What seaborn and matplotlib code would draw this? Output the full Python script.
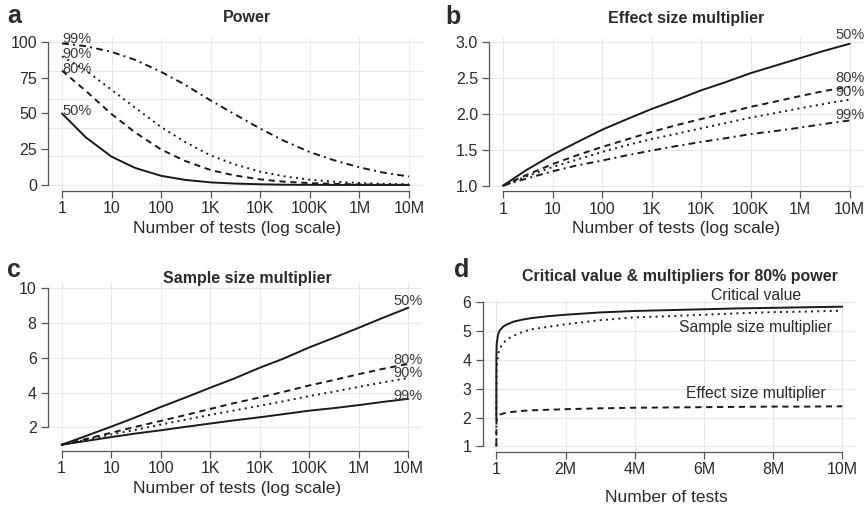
import pandas as pd
import matplotlib
matplotlib.use("Agg")
import matplotlib.pyplot as plt
import seaborn as sns

# values
n_tests = [1, 3, 10, 30, 100, 300, 1e3, 3e3, 1e4, 3e4, 1e5, 3e5, 1e6, 3e6, 1e7]
log_ticks = [1, 10, 100, 1e3, 1e4, 1e5, 1e6, 1e7]
log_labels = ["1", "10", "100", "1K", "10K", "100K", "1M", "10M"]
levels = ["50%", "80%", "90%", "99%"]

power_50 = [50, 33.4, 19.8, 11.9, 6.4, 3.6, 1.8, 1.0, 0.5, 0.2, 0.1, 0.05, 0.0, 0.0, 0.0]
power_80 = [80, 65.9, 49.6, 36.7, 24.8, 16.9, 10.4, 6.7, 3.9, 2.3, 1.3, 0.8, 0.4, 0.2, 0.1]
power_90 = [90, 80.2, 66.6, 54.0, 40.5, 30.2, 20.6, 14.5, 9.3, 6.1, 3.7, 2.3, 1.4, 0.8, 0.5]
power_99 = [99, 97.1, 93.1, 87.5, 79.1, 70.2, 59.1, 49.6, 39.4, 30.9, 23.0, 17.4, 12.3, 8.7, 5.9]

effect_50 = [1.00, 1.22, 1.43, 1.60, 1.78, 1.92, 2.07, 2.19, 2.33, 2.44, 2.57, 2.67, 2.78, 2.88, 2.98]
effect_80 = [1.00, 1.15, 1.30, 1.42, 1.54, 1.64, 1.75, 1.84, 1.93, 2.01, 2.10, 2.17, 2.25, 2.32, 2.38]
effect_90 = [1.00, 1.13, 1.26, 1.36, 1.47, 1.56, 1.65, 1.72, 1.80, 1.87, 1.95, 2.01, 2.08, 2.14, 2.20]
effect_99 = [1.00, 1.10, 1.20, 1.28, 1.35, 1.42, 1.49, 1.55, 1.61, 1.66, 1.72, 1.76, 1.81, 1.86, 1.91]

sample_50 = [1.00, 1.49, 2.04, 2.56, 3.17, 3.69, 4.28, 4.80, 5.43, 5.95, 6.60, 7.13, 7.73, 8.29, 8.88]
sample_80 = [1.00, 1.32, 1.69, 2.02, 2.37, 2.69, 3.06, 3.39, 3.72, 4.04, 4.41, 4.71, 5.06, 5.36, 5.65]
sample_90 = [1.00, 1.28, 1.59, 1.85, 2.16, 2.43, 2.72, 2.97, 3.24, 3.50, 3.80, 4.04, 4.33, 4.58, 4.84]
sample_99 = [1.00, 1.21, 1.44, 1.64, 1.83, 2.02, 2.22, 2.40, 2.58, 2.76, 2.96, 3.10, 3.28, 3.46, 3.64]

# panel d, linear axis, 80% power
n_linear = [1, 1e3, 1e4, 5e4, 1e5, 2e5, 3e5, 5e5, 7.5e5, 1e6, 1.5e6, 2e6, 3e6,
            4e6, 5e6, 6e6, 7e6, 8e6, 9e6, 1e7]
critical = [1.96, 4.06, 4.56, 4.89, 5.03, 5.16, 5.23, 5.33, 5.40, 5.45, 5.52, 5.57,
            5.65, 5.70, 5.73, 5.76, 5.79, 5.81, 5.83, 5.85]
effect_d = [1.00, 1.75, 1.93, 2.05, 2.10, 2.14, 2.17, 2.20, 2.23, 2.25, 2.27, 2.29,
            2.32, 2.34, 2.35, 2.36, 2.37, 2.38, 2.38, 2.39]
sample_d = [1.00, 3.06, 3.72, 4.20, 4.41, 4.58, 4.71, 4.84, 4.97, 5.06, 5.15, 5.24,
            5.38, 5.48, 5.52, 5.57, 5.62, 5.66, 5.68, 5.71]
lin_ticks = [1, 2e6, 4e6, 6e6, 8e6, 1e7]
lin_labels = ["1", "2M", "4M", "6M", "8M", "10M"]

sns.set_theme(style="whitegrid")
plt.rcParams['font.family'] = ['Liberation Sans', 'DejaVu Sans']
plt.rcParams['grid.color'] = '#e8e8e8'
plt.rcParams['grid.linewidth'] = 0.8

W, H = 866, 508
LINE = '#1a1a1a'
TXT = '#2b2b2b'
SOLID, DASH, DOT, DASHDOT = "", (3.2, 2.4), (1, 2.2), (3.5, 2.2, 1, 2.2)
TICK_FS, LAB_FS, TITLE_FS, PCT_FS = 11.5, 12.5, 11.5, 10.5

fig = plt.figure(figsize=(W / 100, H / 100), dpi=100)


def add_ax(left, right, top, bottom):
    return fig.add_axes([left / W, 1 - bottom / H, (right - left) / W, (bottom - top) / H])


def ftext(x, y, s, **kw):
    fig.text(x / W, 1 - y / H, s, ha='center', va='center', color=TXT, **kw)


def long_df(x, series):
    rows = []
    for lev, vals in zip(levels, series):
        for xi, v in zip(x, vals):
            rows.append({"tests": xi, "value": v, "level": lev})
    return pd.DataFrame(rows)


def style_ax(ax, xticks, xlabels, xb, yticks, yb):
    ax.set_xticks(xticks)
    ax.set_xticklabels(xlabels)
    ax.set_yticks(yticks)
    ax.set_xlabel("")
    ax.set_ylabel("")
    for s in ["top", "right"]:
        ax.spines[s].set_visible(False)
    for s in ["left", "bottom"]:
        ax.spines[s].set_color('#555555')
        ax.spines[s].set_linewidth(0.9)
    ax.spines["bottom"].set_bounds(*xb)
    ax.spines["left"].set_bounds(*yb)
    ax.tick_params(axis='both', which='major', length=5, width=0.9, color='#555555',
                   labelsize=TICK_FS, labelcolor=TXT, bottom=True, left=True)
    ax.tick_params(axis='x', pad=2.5)
    ax.tick_params(axis='y', pad=3)
    ax.set_facecolor('white')
    ax.grid(True, which='major')


def log_panel(ax, series, dashes, ylim):
    df = long_df(n_tests, series)
    sns.lineplot(data=df, x="tests", y="value", style="level", dashes=dashes,
                 color=LINE, linewidth=1.4, legend=False, estimator=None,
                 sort=False, ax=ax)
    ax.set_xscale('log')
    ax.set_xlim(10 ** -0.28, 10 ** 7.28)
    ax.set_ylim(*ylim)
    ax.minorticks_off()


dash_std = {"50%": SOLID, "80%": DASH, "90%": DOT, "99%": DASHDOT}

# a: power
ax_a = add_ax(48.1, 422.9, 37.7, 190.7)
log_panel(ax_a, [power_50, power_80, power_90, power_99], dash_std, (-4, 103))
style_ax(ax_a, log_ticks, log_labels, (1, 1e7), [0, 25, 50, 75, 100], (0, 100))
ax_a.yaxis.grid(False)
for yv in [0, 20, 40, 60, 80, 100]:
    ax_a.axhline(yv, color='#e8e8e8', lw=0.8, zorder=0)
for lab, yv in zip(["99%", "90%", "80%", "50%"], [101.8, 91.8, 81.2, 51.5]):
    ax_a.text(1, yv, lab, ha='left', va='center', fontsize=PCT_FS, color='#3a3a3a')

# b: effect size multiplier
ax_b = add_ax(489.1, 863.6, 38.0, 191.4)
log_panel(ax_b, [effect_50, effect_80, effect_90, effect_99], dash_std, (0.92, 3.06))
style_ax(ax_b, log_ticks, log_labels, (1, 1e7), [1.0, 1.5, 2.0, 2.5, 3.0], (1, 3))
ax_b.set_yticklabels(["1.0", "1.5", "2.0", "2.5", "3.0"])
for lab, yv in zip(levels, [3.10, 2.50, 2.30, 1.99]):
    ax_b.text(1e7, yv, lab, ha='center', va='center', fontsize=PCT_FS, color='#3a3a3a')

# c: sample size multiplier (99% drawn solid in the original)
ax_c = add_ax(47.8, 422.2, 282.0, 451.0)
dash_c = {"50%": SOLID, "80%": DASH, "90%": DOT, "99%": SOLID}
log_panel(ax_c, [sample_50, sample_80, sample_90, sample_99], dash_c, (0.64, 10.36))
style_ax(ax_c, log_ticks, log_labels, (1, 1e7), [2, 4, 6, 8, 10], (2, 10))
for lab, yv in zip(levels, [9.29, 5.88, 5.11, 3.83]):
    ax_c.text(1e7, yv, lab, ha='center', va='center', fontsize=PCT_FS, color='#3a3a3a')

# d: critical value & multipliers for 80% power
ax_d = add_ax(482.5, 856.1, 301.2, 451.8)
df_d = pd.DataFrame({
    "tests": n_linear * 3,
    "value": critical + sample_d + effect_d,
    "kind": ["Critical value"] * len(n_linear) + ["Sample size multiplier"] * len(n_linear)
            + ["Effect size multiplier"] * len(n_linear),
})
sns.lineplot(data=df_d, x="tests", y="value", style="kind",
             dashes={"Critical value": SOLID, "Sample size multiplier": DOT,
                     "Effect size multiplier": DASH},
             color=LINE, linewidth=1.4, legend=False, estimator=None, sort=False, ax=ax_d)
ax_d.set_xlim(1 - 0.04e7, 1.04e7)
ax_d.set_ylim(0.81, 6.04)
style_ax(ax_d, lin_ticks, lin_labels, (1, 1e7), [1, 2, 3, 4, 5, 6], (1, 6))
ax_d.xaxis.grid(False)
for xv in [0, 2e6, 4e6, 6e6, 8e6, 1e7]:
    ax_d.axvline(xv, color='#e8e8e8', lw=0.8, zorder=0)
ax_d.text(7.5e6, 6.25, "Critical value", ha='center', va='center', fontsize=11.3, color=TXT)
ax_d.text(7.5e6, 5.11, "Sample size multiplier", ha='center', va='center', fontsize=11.3, color=TXT)
ax_d.text(7.5e6, 2.82, "Effect size multiplier", ha='center', va='center', fontsize=11.3, color=TXT)

# titles, panel letters, axis labels
ftext(247, 17, "Power", fontsize=TITLE_FS, fontweight='bold')
ftext(686, 18, "Effect size multiplier", fontsize=TITLE_FS, fontweight='bold')
ftext(247, 279, "Sample size multiplier", fontsize=TITLE_FS, fontweight='bold')
ftext(680, 277, "Critical value & multipliers for 80% power", fontsize=TITLE_FS, fontweight='bold')
ftext(14, 16, "a", fontsize=18, fontweight='bold')
ftext(453, 17, "b", fontsize=18, fontweight='bold')
ftext(14, 270, "c", fontsize=18, fontweight='bold')
ftext(462, 270, "d", fontsize=18, fontweight='bold')
ftext(237, 228, "Number of tests (log scale)", fontsize=LAB_FS)
ftext(676, 228, "Number of tests (log scale)", fontsize=LAB_FS)
ftext(237, 489, "Number of tests (log scale)", fontsize=LAB_FS)
ftext(666, 498, "Number of tests", fontsize=LAB_FS)

fig.savefig("out.png", dpi=100)
